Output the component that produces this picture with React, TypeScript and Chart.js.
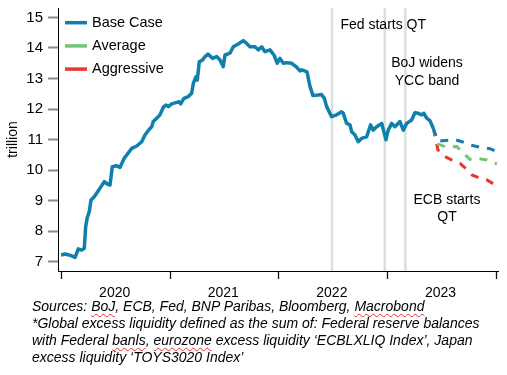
import React, { useEffect, useRef } from 'react';
import { Chart, registerables } from 'chart.js';

Chart.register(...registerables);

// ---- Data (decimal years, trillions) ----
const baseYears = [
  2019.994, 2020.031, 2020.068, 2020.092, 2020.123, 2020.153, 2020.184, 2020.208, 2020.221, 2020.236,
  2020.254, 2020.27, 2020.3, 2020.331, 2020.362, 2020.392, 2020.429, 2020.445, 2020.466, 2020.506,
  2020.537, 2020.576, 2020.645, 2020.691, 2020.737, 2020.767, 2020.807, 2020.829, 2020.843, 2020.875,
  2020.905, 2020.936, 2020.96, 2020.982, 2021.013, 2021.052, 2021.083, 2021.096, 2021.126, 2021.166,
  2021.197, 2021.212, 2021.237, 2021.249, 2021.267, 2021.298, 2021.32, 2021.347, 2021.39, 2021.427,
  2021.458, 2021.488, 2021.504, 2021.55, 2021.58, 2021.626, 2021.672, 2021.703, 2021.734, 2021.78,
  2021.81, 2021.842, 2021.872, 2021.918, 2021.955, 2021.985, 2022.01, 2022.041, 2022.072, 2022.118,
  2022.164, 2022.194, 2022.213, 2022.259, 2022.286, 2022.314, 2022.363, 2022.391, 2022.419, 2022.44,
  2022.486, 2022.532, 2022.578, 2022.593, 2022.624, 2022.655, 2022.67, 2022.701, 2022.731, 2022.762,
  2022.808, 2022.845, 2022.869, 2022.901, 2022.947, 2022.986, 2023.007, 2023.039, 2023.069, 2023.115,
  2023.146, 2023.177, 2023.223, 2023.253, 2023.284, 2023.315, 2023.336, 2023.361, 2023.391, 2023.422,
];
const baseValues = [
  7.22, 7.25, 7.22, 7.19, 7.14, 7.42, 7.38, 7.44, 8.15, 8.45,
  8.64, 9.02, 9.13, 9.29, 9.46, 9.62, 9.53, 9.51, 10.11, 10.14,
  10.09, 10.39, 10.71, 10.79, 10.93, 11.15, 11.34, 11.42, 11.59, 11.7,
  11.81, 12.06, 12.13, 12.08, 12.17, 12.21, 12.24, 12.17, 12.35, 12.41,
  12.52, 12.84, 13.06, 12.95, 13.55, 13.61, 13.72, 13.8, 13.66, 13.72,
  13.61, 13.39, 13.77, 13.83, 14.04, 14.13, 14.24, 14.15, 14.04, 14.04,
  13.94, 14.04, 13.88, 13.94, 13.77, 13.5, 13.66, 13.5, 13.52, 13.5,
  13.37, 13.25, 13.28, 13.22, 12.75, 12.44, 12.46, 12.48, 12.35, 12.08,
  11.75, 11.81, 11.91, 11.86, 11.53, 11.48, 11.26, 11.15, 10.93, 11.04,
  11.09, 11.48, 11.31, 11.42, 11.53, 10.99, 11.31, 11.53, 11.42, 11.59,
  11.31, 11.53, 11.64, 11.88, 11.86, 11.81, 11.86, 11.7, 11.62, 11.37,
];

const baseProjYears = [2023.422, 2023.465, 2023.53, 2023.62, 2023.686, 2023.76, 2023.852, 2023.944, 2024.008];
const baseProjValues = [11.37, 10.95, 10.97, 11.0, 10.93, 10.82, 10.75, 10.7, 10.6];

const averageYears = [2023.422, 2023.465, 2023.548, 2023.64, 2023.686, 2023.76, 2023.824, 2023.916, 2024.008];
const averageValues = [11.37, 10.85, 10.75, 10.77, 10.6, 10.35, 10.39, 10.33, 10.2];

const aggressiveYears = [2023.422, 2023.465, 2023.53, 2023.594, 2023.668, 2023.704, 2023.778, 2023.852, 2023.916, 2024.008];
const aggressiveValues = [11.37, 10.66, 10.44, 10.33, 10.22, 10.11, 9.84, 9.73, 9.68, 9.48];

const legendLabels = ['Base Case', 'Average', 'Aggressive'];

const eventYears = [2022.49, 2022.975, 2023.165];
const annotationTexts = [['Fed starts QT'], ['BoJ widens', 'YCC band'], ['ECB starts', 'QT']];
const annotationX = [2022.961, 2023.364, 2023.548];
const annotationY = [[14.75], [13.51, 12.92], [9.02, 8.46]];

const xTicks = [2020, 2021, 2022, 2023, 2024];
const xTickLabels = ['2020', '2021', '2022', '2023', ''];
const yTicks = [7, 8, 9, 10, 11, 12, 13, 14, 15];

// ---- Styles ----
const BLUE = '#0f7fad';
const GREEN = '#74c476';
const RED = '#ee3332';
const FONT = '"Liberation Sans", Arial, sans-serif';
const legendColors = [BLUE, GREEN, RED];

const toPoints = (xs: number[], ys: number[]) => xs.map((x, i) => ({ x, y: ys[i] }));

const overlayPlugin = {
  id: 'overlay',
  beforeDatasetsDraw(chart: any) {
    const { ctx, chartArea, scales } = chart;
    ctx.save();
    ctx.strokeStyle = '#dcdfdf';
    ctx.lineWidth = 2.5;
    eventYears.forEach((yr) => {
      const px = scales.x.getPixelForValue(yr);
      ctx.beginPath();
      ctx.moveTo(px, chartArea.top);
      ctx.lineTo(px, chartArea.bottom);
      ctx.stroke();
    });
    ctx.restore();
  },
  afterDatasetsDraw(chart: any) {
    const { ctx, chartArea, scales } = chart;
    ctx.save();
    // annotations
    ctx.fillStyle = '#000';
    ctx.font = `14px ${FONT}`;
    ctx.textAlign = 'center';
    ctx.textBaseline = 'middle';
    annotationTexts.forEach((lines, i) => {
      const px = scales.x.getPixelForValue(annotationX[i]);
      lines.forEach((t, j) => {
        ctx.fillText(t, px, scales.y.getPixelForValue(annotationY[i][j]));
      });
    });
    // legend
    ctx.font = `14.5px ${FONT}`;
    ctx.textAlign = 'left';
    legendLabels.forEach((label, i) => {
      const y = chartArea.top + 14.7 + i * 23.2;
      const x0 = chartArea.left + 7;
      ctx.strokeStyle = legendColors[i];
      ctx.lineWidth = 3.5;
      ctx.beginPath();
      ctx.moveTo(x0, y);
      ctx.lineTo(x0 + 22, y);
      ctx.stroke();
      ctx.fillStyle = '#000';
      ctx.fillText(label, x0 + 27, y);
    });
    ctx.restore();
  },
};

function App() {
  const canvasRef = useRef<HTMLCanvasElement | null>(null);

  useEffect(() => {
    if (!canvasRef.current) return;
    const chart = new Chart(canvasRef.current, {
      type: 'line',
      data: {
        datasets: [
          {
            label: 'Base Case',
            data: toPoints(baseYears, baseValues),
            borderColor: BLUE,
            borderWidth: 3.5,
            pointRadius: 0,
            tension: 0,
            borderJoinStyle: 'round',
            order: 1,
          },
          {
            label: 'Base Case projection',
            data: toPoints(baseProjYears, baseProjValues),
            borderColor: BLUE,
            borderWidth: 3,
            borderDash: [8, 8],
            pointRadius: 0,
            tension: 0,
            order: 2,
          },
          {
            label: 'Average',
            data: toPoints(averageYears, averageValues),
            borderColor: GREEN,
            borderWidth: 3,
            borderDash: [8, 8],
            pointRadius: 0,
            tension: 0,
            order: 3,
          },
          {
            label: 'Aggressive',
            data: toPoints(aggressiveYears, aggressiveValues),
            borderColor: RED,
            borderWidth: 3,
            borderDash: [8, 8],
            pointRadius: 0,
            tension: 0,
            order: 4,
          },
        ],
      },
      options: {
        responsive: false,
        animation: false,
        events: [],
        layout: { padding: { top: 8, right: 9, left: 0, bottom: 0 } },
        plugins: { legend: { display: false }, tooltip: { enabled: false } },
        scales: {
          x: {
            type: 'linear',
            min: 2019.966,
            max: 2024.018,
            afterBuildTicks: (axis: any) => {
              axis.ticks = xTicks.map((v) => ({ value: v }));
            },
            afterFit: (axis: any) => {
              axis.height = 29;
              axis.paddingLeft = 0;
              axis.paddingRight = 0;
            },
            ticks: {
              autoSkip: false,
              maxRotation: 0,
              padding: 6,
              labelOffset: 53,
              color: '#000',
              font: { family: FONT, size: 14 },
              callback: (v: any) => {
                const i = xTicks.indexOf(Number(v));
                return i >= 0 ? xTickLabels[i] : '';
              },
            },
            grid: {
              display: true,
              drawOnChartArea: false,
              drawTicks: true,
              tickLength: 8,
              tickColor: '#111',
              tickWidth: 1.3,
            },
            border: { display: true, color: '#000', width: 1 },
          },
          y: {
            type: 'linear',
            min: 6.695,
            max: 15.31,
            afterBuildTicks: (axis: any) => {
              axis.ticks = yTicks.map((v) => ({ value: v }));
            },
            afterFit: (axis: any) => {
              axis.width = 58;
              axis.paddingTop = 0;
              axis.paddingBottom = 0;
            },
            ticks: {
              padding: 5,
              color: '#000',
              font: { family: FONT, size: 15 },
            },
            grid: {
              display: true,
              drawOnChartArea: false,
              drawTicks: true,
              tickLength: 10,
              tickColor: '#8a8a8a',
              tickWidth: 2,
            },
            border: { display: true, color: '#000', width: 1 },
            title: {
              display: true,
              text: 'trillion',
              color: '#000',
              font: { family: FONT, size: 14 },
              padding: 5,
            },
          },
        },
      },
      plugins: [overlayPlugin],
    } as any);
    return () => chart.destroy();
  }, []);

  const squiggle: React.CSSProperties = {
    textDecoration: 'underline wavy #e03030',
    textDecorationThickness: '1px',
    textUnderlineOffset: '2px',
  };

  return (
    <div style={{ position: 'absolute', left: 0, top: 0, width: 507, height: 375, background: '#fff' }}>
      <canvas ref={canvasRef} width={507} height={300} style={{ position: 'absolute', left: 0, top: 0, width: 507, height: 300 }} />
      <div
        style={{
          position: 'absolute',
          left: 32,
          top: 298,
          fontFamily: FONT,
          fontStyle: 'italic',
          fontSize: 14,
          lineHeight: '17px',
          color: '#000',
          whiteSpace: 'nowrap',
        }}
      >
        Sources: <span style={squiggle}>BoJ</span>, ECB, Fed, BNP Paribas, Bloomberg, <span style={squiggle}>Macrobond</span>
        <br />
        *Global excess liquidity defined as the sum of: Federal reserve balances
        <br />
        with Federal <span style={squiggle}>banls</span>, <span style={squiggle}>eurozone</span> excess liquidity ‘ECBLXLIQ Index’, Japan
        <br />
        excess liquidity ‘TOYS3020 Index’
      </div>
    </div>
  );
}

export default App;
